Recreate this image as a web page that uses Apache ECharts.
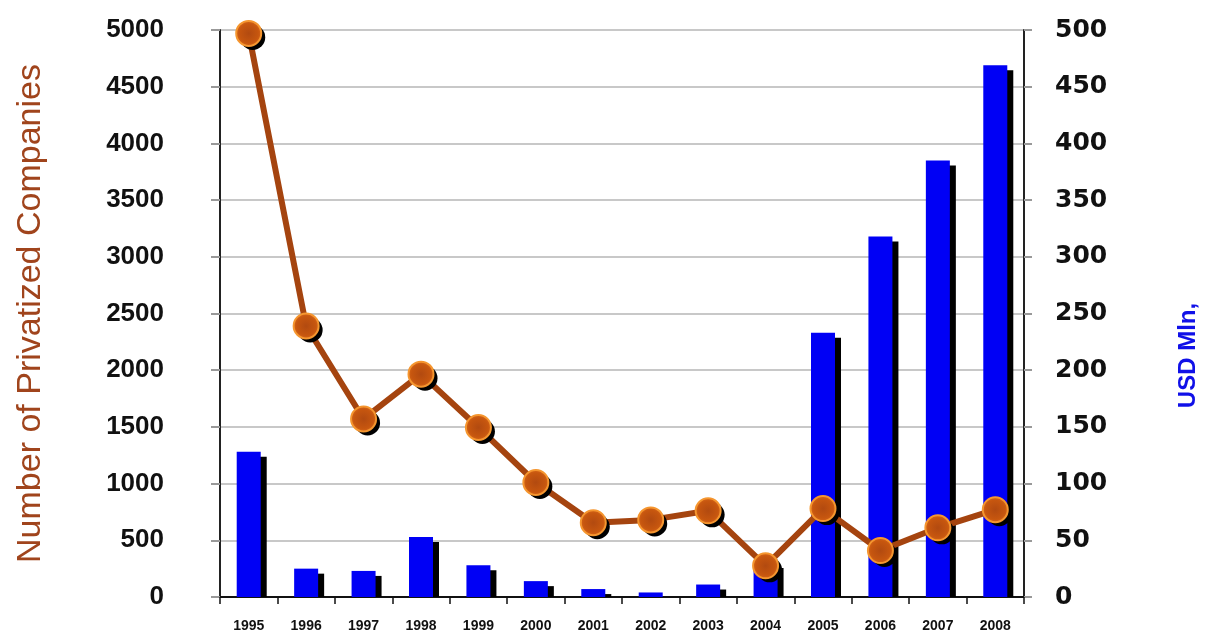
<!DOCTYPE html>
<html>
<head>
<meta charset="utf-8">
<title>Privatization</title>
<script src="https://cdn.jsdelivr.net/npm/echarts@6/dist/echarts.min.js"></script>
<style>
  html, body { margin: 0; padding: 0; background: #ffffff; }
  #chart { width: 1207px; height: 633px; }
</style>
</head>
<body>
<div id="chart"></div>
<script>
// Years on the category axis
const years = ['1995', '1996', '1997', '1998', '1999', '2000', '2001',
               '2002', '2003', '2004', '2005', '2006', '2007', '2008'];

// Number of privatized companies (left axis, line)
const companies = [4970, 2390, 1570, 1965, 1495, 1010, 655, 680, 760, 275, 780, 410, 610, 770];

// Privatization revenue, USD Mln (right axis, bars)
const revenueUsd = [128, 25, 23, 53, 28, 14, 7, 4, 11, 30, 233, 318, 385, 469];

// Axis tick values
const leftTicks = { min: 0, max: 5000, step: 500 };
const rightTicks = { min: 0, max: 500, step: 50 };

const chart = echarts.init(document.getElementById('chart'), null, { renderer: 'canvas' });

const BAR_W = 24;
const plain = v => String(v);

// Black drop shadow behind each bar, offset right and down, stopping at the axis
function barShadow(params, api) {
  const i = api.value(0);
  const v = api.value(1);
  const top = api.coord([i, v]);
  const base = api.coord([i, 0]);
  const x = top[0] - BAR_W / 2 + 6;
  const y = top[1] + 5;
  const h = Math.max(0, base[1] - y);
  return {
    type: 'rect',
    shape: { x: x, y: y, width: BAR_W, height: h },
    style: { fill: '#000000' }
  };
}

const markerStyle = {
  color: {
    type: 'radial', x: 0.5, y: 0.5, r: 0.5,
    colorStops: [
      { offset: 0, color: '#b24a10' },
      { offset: 0.7, color: '#c6560f' },
      { offset: 1, color: '#d8671a' }
    ]
  },
  borderColor: '#f5962f',
  borderWidth: 2
};

chart.setOption({
  animation: false,
  backgroundColor: '#ffffff',
  grid: {
    left: 220,
    right: 183,
    top: 30,
    bottom: 36,
    containLabel: false,
    outerBoundsMode: 'none'
  },
  xAxis: {
    type: 'category',
    data: years,
    boundaryGap: true,
    axisLine: { lineStyle: { color: '#111111', width: 2 } },
    axisTick: { show: true, length: 7, lineStyle: { color: '#111111', width: 1.5 } },
    axisLabel: {
      margin: 22,
      fontFamily: '"Liberation Sans Narrow", "Liberation Sans", Arial, sans-serif',
      fontWeight: 'bold',
      fontSize: 14,
      color: '#111111'
    },
    splitLine: { show: false }
  },
  yAxis: [
    {
      type: 'value',
      position: 'left',
      min: leftTicks.min,
      max: leftTicks.max,
      interval: leftTicks.step,
      name: 'Number of Privatized Companies',
      nameLocation: 'middle',
      nameGap: 172,
      nameTextStyle: {
        fontFamily: '"Liberation Sans", Arial, sans-serif',
        fontSize: 34,
        color: '#a0441c'
      },
      axisLine: { show: true, lineStyle: { color: '#222222', width: 2 } },
      axisTick: { show: true, length: 9, lineStyle: { color: '#999999', width: 2 } },
      axisLabel: {
        margin: 56,
        formatter: plain,
        fontFamily: '"Liberation Sans", Arial, sans-serif',
        fontWeight: 'bold',
        fontSize: 26,
        color: '#111111'
      },
      splitLine: { show: true, lineStyle: { color: '#c8c8c8', width: 2 } }
    },
    {
      type: 'value',
      position: 'right',
      min: rightTicks.min,
      max: rightTicks.max,
      interval: rightTicks.step,
      name: 'USD Mln,',
      nameLocation: 'middle',
      nameGap: 152,
      nameTextStyle: {
        fontFamily: '"Liberation Sans", Arial, sans-serif',
        fontWeight: 'bold',
        fontSize: 24,
        color: '#1010e8',
        padding: [0, 84, 0, 0]
      },
      axisLine: { show: true, lineStyle: { color: '#222222', width: 2 } },
      axisTick: { show: true, length: 8, lineStyle: { color: '#999999', width: 2 } },
      axisLabel: {
        margin: 31,
        formatter: plain,
        fontFamily: '"DejaVu Sans", Verdana, sans-serif',
        fontWeight: 'bold',
        fontSize: 25,
        color: '#111111'
      },
      splitLine: { show: false }
    }
  ],
  series: [
    {
      name: 'USD Mln shadow',
      type: 'custom',
      yAxisIndex: 1,
      renderItem: barShadow,
      data: revenueUsd.map((v, i) => [i, v]),
      encode: { x: 0, y: 1 },
      silent: true,
      z: 1
    },
    {
      name: 'USD Mln',
      type: 'bar',
      yAxisIndex: 1,
      data: revenueUsd,
      barWidth: BAR_W,
      z: 2,
      itemStyle: { color: '#0000f5' }
    },
    {
      name: 'Number of Privatized Companies',
      type: 'line',
      yAxisIndex: 0,
      data: companies,
      z: 5,
      clip: false,
      showSymbol: false,
      symbol: 'none',
      lineStyle: { color: '#a5440f', width: 6 }
    },
    {
      name: 'marker shadow',
      type: 'line',
      yAxisIndex: 0,
      data: companies,
      z: 6,
      clip: false,
      symbol: 'circle',
      symbolSize: 25,
      symbolOffset: [4, 4],
      lineStyle: { width: 0, opacity: 0 },
      itemStyle: { color: '#000000' },
      silent: true
    },
    {
      name: 'Companies',
      type: 'line',
      yAxisIndex: 0,
      data: companies,
      z: 7,
      clip: false,
      symbol: 'circle',
      symbolSize: 25,
      lineStyle: { width: 0, opacity: 0 },
      itemStyle: markerStyle
    }
  ]
});
</script>
</body>
</html>
